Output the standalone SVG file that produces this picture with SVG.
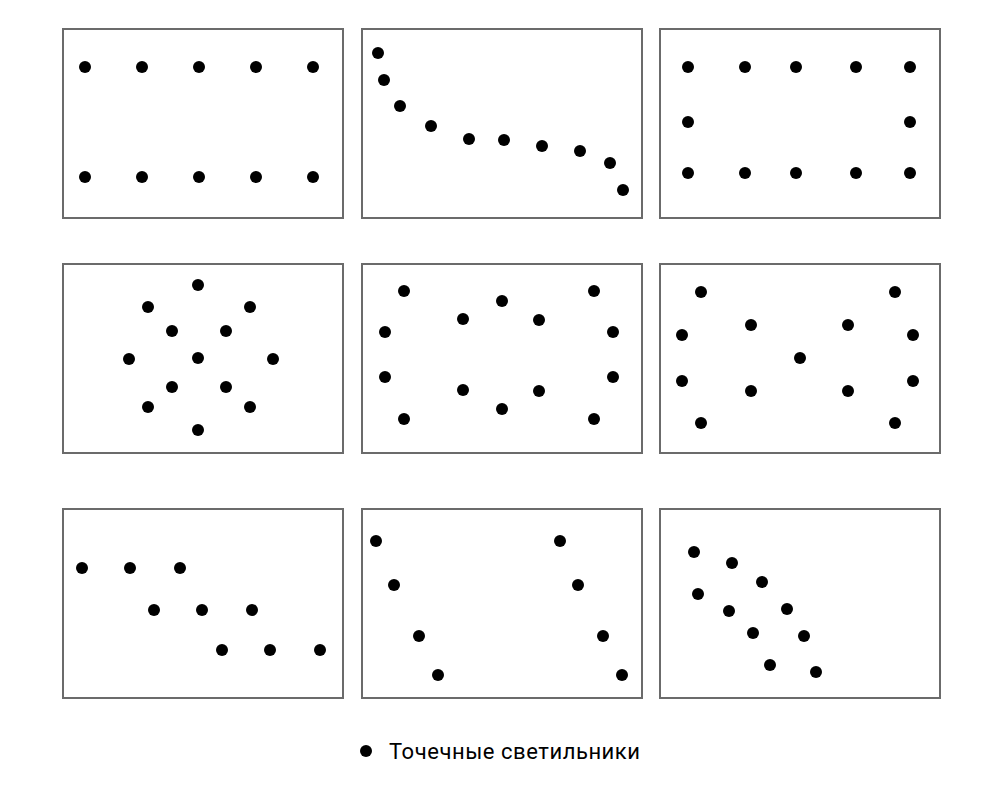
<svg xmlns="http://www.w3.org/2000/svg" width="1000" height="800" viewBox="0 0 1000 800">
<style>
.frame{fill:#fff;stroke:#6b6b6b;stroke-width:2}
.dot{fill:#000}
.lbl{font-family:Roboto,"Liberation Sans",sans-serif;font-size:22px;fill:#000}
</style>
<defs><circle id="d" r="6" class="dot"/></defs>
<rect width="1000" height="800" fill="#fff"/>
<g id="panel1">
<rect class="frame" x="63" y="29" width="280" height="189"/>
<use href="#d" x="85" y="67"/><use href="#d" x="142" y="67"/><use href="#d" x="199" y="67"/><use href="#d" x="256" y="67"/><use href="#d" x="313" y="67"/>
<use href="#d" x="85" y="177"/><use href="#d" x="142" y="177"/><use href="#d" x="199" y="177"/><use href="#d" x="256" y="177"/><use href="#d" x="313" y="177"/>
</g>
<g id="panel2">
<rect class="frame" x="362" y="29" width="280" height="189"/>
<use href="#d" x="378" y="53"/><use href="#d" x="384" y="80"/><use href="#d" x="400" y="106"/><use href="#d" x="431" y="126"/><use href="#d" x="469" y="139"/><use href="#d" x="504" y="140"/><use href="#d" x="542" y="146"/><use href="#d" x="580" y="151"/><use href="#d" x="610" y="163"/><use href="#d" x="623" y="190"/>
</g>
<g id="panel3">
<rect class="frame" x="660" y="29" width="280" height="189"/>
<use href="#d" x="688" y="67"/><use href="#d" x="745" y="67"/><use href="#d" x="796" y="67"/><use href="#d" x="856" y="67"/><use href="#d" x="910" y="67"/>
<use href="#d" x="688" y="122"/><use href="#d" x="910" y="122"/>
<use href="#d" x="688" y="173"/><use href="#d" x="745" y="173"/><use href="#d" x="796" y="173"/><use href="#d" x="856" y="173"/><use href="#d" x="910" y="173"/>
</g>
<g id="panel4">
<rect class="frame" x="63" y="264" width="280" height="189"/>
<use href="#d" x="198" y="285"/><use href="#d" x="148" y="307"/><use href="#d" x="250" y="307"/><use href="#d" x="172" y="331"/><use href="#d" x="226" y="331"/><use href="#d" x="129" y="359"/><use href="#d" x="198" y="358"/><use href="#d" x="273" y="359"/><use href="#d" x="172" y="387"/><use href="#d" x="226" y="387"/><use href="#d" x="148" y="407"/><use href="#d" x="250" y="407"/><use href="#d" x="198" y="430"/>
</g>
<g id="panel5">
<rect class="frame" x="362" y="264" width="280" height="189"/>
<use href="#d" x="404" y="291"/><use href="#d" x="385" y="332"/><use href="#d" x="385" y="377"/><use href="#d" x="404" y="419"/><use href="#d" x="463" y="319"/><use href="#d" x="502" y="301"/><use href="#d" x="539" y="320"/><use href="#d" x="594" y="291"/><use href="#d" x="613" y="332"/><use href="#d" x="613" y="377"/><use href="#d" x="594" y="419"/><use href="#d" x="463" y="390"/><use href="#d" x="502" y="409"/><use href="#d" x="539" y="391"/>
</g>
<g id="panel6">
<rect class="frame" x="660" y="264" width="280" height="189"/>
<use href="#d" x="701" y="292"/><use href="#d" x="682" y="335"/><use href="#d" x="682" y="381"/><use href="#d" x="701" y="423"/><use href="#d" x="751" y="325"/><use href="#d" x="751" y="391"/><use href="#d" x="800" y="358"/><use href="#d" x="848" y="325"/><use href="#d" x="848" y="391"/><use href="#d" x="895" y="292"/><use href="#d" x="913" y="335"/><use href="#d" x="913" y="381"/><use href="#d" x="895" y="423"/>
</g>
<g id="panel7">
<rect class="frame" x="63" y="509" width="280" height="189"/>
<use href="#d" x="82" y="568"/><use href="#d" x="130" y="568"/><use href="#d" x="180" y="568"/>
<use href="#d" x="154" y="610"/><use href="#d" x="202" y="610"/><use href="#d" x="252" y="610"/>
<use href="#d" x="222" y="650"/><use href="#d" x="270" y="650"/><use href="#d" x="320" y="650"/>
</g>
<g id="panel8">
<rect class="frame" x="362" y="509" width="280" height="189"/>
<use href="#d" x="376" y="541"/><use href="#d" x="394" y="585"/><use href="#d" x="419" y="636"/><use href="#d" x="438" y="675"/>
<use href="#d" x="560" y="541"/><use href="#d" x="578" y="585"/><use href="#d" x="603" y="636"/><use href="#d" x="622" y="675"/>
</g>
<g id="panel9">
<rect class="frame" x="660" y="509" width="280" height="189"/>
<use href="#d" x="694" y="552"/><use href="#d" x="732" y="563"/><use href="#d" x="762" y="582"/><use href="#d" x="698" y="594"/><use href="#d" x="729" y="611"/><use href="#d" x="787" y="609"/><use href="#d" x="753" y="633"/><use href="#d" x="804" y="636"/><use href="#d" x="770" y="665"/><use href="#d" x="816" y="672"/>
</g>
<g id="legend">
<use href="#d" x="366" y="751"/>
<text class="lbl" x="389" y="759" textLength="251" lengthAdjust="spacing">Точечные светильники</text>
</g>
<g id="connectors"/>
</svg>
